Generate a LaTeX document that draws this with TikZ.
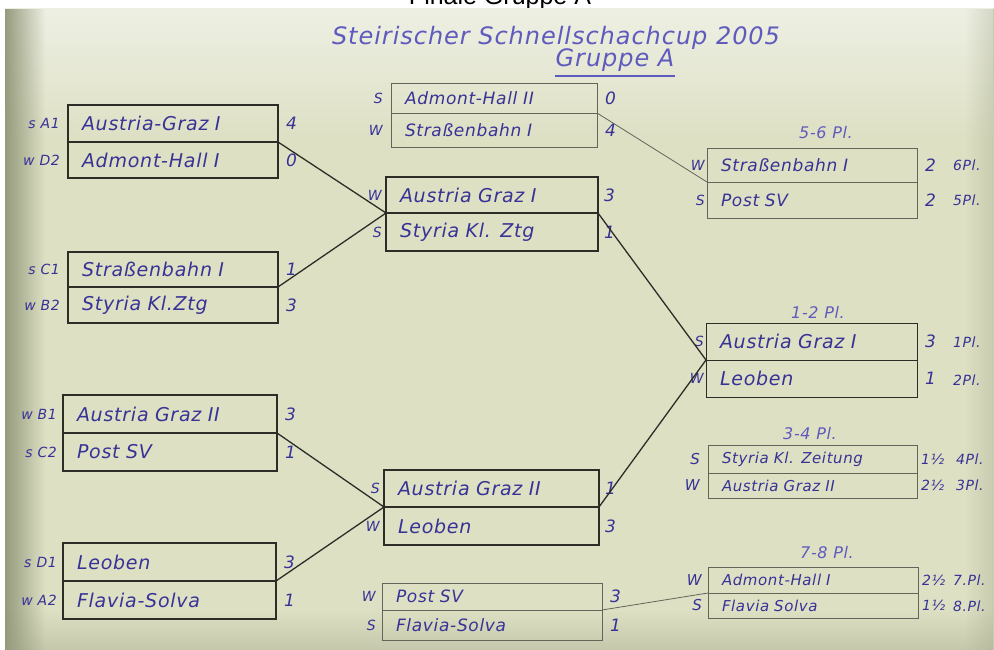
\documentclass[tikz,border=0pt]{standalone}
\usepackage{fontspec}
\setmainfont{Liberation Sans}
\newfontfamily\hand{DejaVu Sans}[LetterSpace=4]
\usetikzlibrary{fadings}
\definecolor{paper}{RGB}{222,224,196}
\definecolor{paperlight}{RGB}{238,240,228}
\definecolor{paperdark}{RGB}{150,155,125}
\definecolor{pencil}{RGB}{45,45,40}
\definecolor{pencillight}{RGB}{100,100,90}
\definecolor{ink}{RGB}{55,50,150}
\definecolor{inklight}{RGB}{95,90,190}
\tikzset{
 cellbox/.style={draw=pencil, line width=1.2pt, rectangle, anchor=north west, outer sep=0pt,
   inner xsep=14pt, inner ysep=0pt, align=left, text=ink,
   font=\hand\itshape\fontsize{19}{22}\selectfont},
 lightcell/.style={cellbox, draw=pencillight, line width=0.9pt},
 smallcell/.style={lightcell, font=\hand\itshape\fontsize{15}{17}\selectfont},
 scoretext/.style={text=ink, font=\hand\itshape\fontsize{17}{20}\selectfont, inner sep=0pt, anchor=west},
 smallscore/.style={scoretext, font=\hand\itshape\fontsize{14}{16}\selectfont},
 sidelabel/.style={text=ink, font=\hand\itshape\fontsize{14}{16}\selectfont, inner sep=0pt, anchor=east},
 heading/.style={text=inklight, font=\hand\itshape\fontsize{16}{19}\selectfont, inner sep=0pt},
 conn/.style={draw=pencil, line width=1.3pt},
 thinconn/.style={draw=pencillight, line width=0.8pt},
}
\begin{document}
\begin{tikzpicture}[x=1pt,y=-1pt]
\useasboundingbox (0,0) rectangle (994,650);
\clip (0,0) rectangle (994,650);
\fill[white] (0,0) rectangle (994,650);
% printed title
\node[font=\fontsize{25}{28}\selectfont, anchor=base, inner sep=0pt] (fin) at (500,5) {Finale Gruppe A};
% paper
\fill[paper] (5,8) rectangle (994,650);
\fill[paperlight, path fading=south] (5,8) rectangle (994,140);
\fill[paperdark, path fading=east] (5,8) rectangle (45,650);
\fill[paperdark, path fading=west, opacity=0.3] (965,8) rectangle (994,650);
\fill[paperdark, path fading=north, opacity=0.35] (5,610) rectangle (994,650);

% handwritten title
\node[text=inklight, font=\hand\itshape\fontsize{24}{28}\selectfont, inner sep=0pt] (t1) at (556,38) {Steirischer Schnellschachcup 2005};
\node[text=inklight, font=\hand\itshape\fontsize{24}{28}\selectfont, inner sep=0pt] (t2) at (615,60) {Gruppe A};
\draw[inklight, line width=2pt] ([yshift=-4pt]t2.south west) -- ([yshift=-4pt]t2.south east);

% ---------- left column ----------
\node[cellbox, text width=182pt, minimum height=37pt] (A1) at (68,105) {Austria-Graz I};
\node[cellbox, text width=182pt, minimum height=36pt] (A2) at (68,142) {Admont-Hall I};
\node[scoretext] (A1s) at ([xshift=8pt]A1.east) {4};
\node[scoretext] (A2s) at ([xshift=8pt]A2.east) {0};
\node[sidelabel] (A1l) at ([xshift=-8pt]A1.west) {s A1};
\node[sidelabel] (A2l) at ([xshift=-8pt]A2.west) {w D2};

\node[cellbox, text width=182pt, minimum height=35pt] (B1) at (68,252) {Straßenbahn I};
\node[cellbox, text width=182pt, minimum height=36pt] (B2) at (68,287) {Styria Kl.Ztg};
\node[scoretext] (B1s) at ([xshift=8pt]B1.east) {1};
\node[scoretext] (B2s) at ([xshift=8pt]B2.east) {3};
\node[sidelabel] (B1l) at ([xshift=-8pt]B1.west) {s C1};
\node[sidelabel] (B2l) at ([xshift=-8pt]B2.west) {w B2};

\node[cellbox, text width=186pt, minimum height=38pt] (C1) at (63,395) {Austria Graz II};
\node[cellbox, text width=186pt, minimum height=38pt] (C2) at (63,433) {Post SV};
\node[scoretext] (C1s) at ([xshift=8pt]C1.east) {3};
\node[scoretext] (C2s) at ([xshift=8pt]C2.east) {1};
\node[sidelabel] (C1l) at ([xshift=-6pt]C1.west) {w B1};
\node[sidelabel] (C2l) at ([xshift=-6pt]C2.west) {s C2};

\node[cellbox, text width=185pt, minimum height=38pt] (D1) at (63,543) {Leoben};
\node[cellbox, text width=185pt, minimum height=38pt] (D2) at (63,581) {Flavia-Solva};
\node[scoretext] (D1s) at ([xshift=8pt]D1.east) {3};
\node[scoretext] (D2s) at ([xshift=8pt]D2.east) {1};
\node[sidelabel] (D1l) at ([xshift=-6pt]D1.west) {s D1};
\node[sidelabel] (D2l) at ([xshift=-6pt]D2.west) {w A2};

% ---------- middle column ----------
\node[lightcell, text width=178pt, minimum height=30pt, font=\hand\itshape\fontsize{17}{20}\selectfont] (M0a) at (391,83) {Admont-Hall II};
\node[lightcell, text width=178pt, minimum height=34pt, font=\hand\itshape\fontsize{17}{20}\selectfont] (M0b) at (391,113) {Straßenbahn I};
\node[scoretext] (M0as) at ([xshift=8pt]M0a.east) {0};
\node[scoretext] (M0bs) at ([xshift=8pt]M0b.east) {4};
\node[sidelabel] (M0al) at ([xshift=-8pt]M0a.west) {S};
\node[sidelabel] (M0bl) at ([xshift=-8pt]M0b.west) {W};

\node[cellbox, text width=184pt, minimum height=36pt] (M1a) at (386,177) {Austria Graz I};
\node[cellbox, text width=184pt, minimum height=38pt] (M1b) at (386,213) {Styria Kl. Ztg};
\node[scoretext] (M1as) at ([xshift=6pt]M1a.east) {3};
\node[scoretext] (M1bs) at ([xshift=6pt]M1b.east) {1};
\node[sidelabel] (M1al) at ([xshift=-4pt]M1a.west) {W};
\node[sidelabel] (M1bl) at ([xshift=-4pt]M1b.west) {S};

\node[cellbox, text width=187pt, minimum height=37pt] (M2a) at (384,470) {Austria Graz II};
\node[cellbox, text width=187pt, minimum height=38pt] (M2b) at (384,507) {Leoben};
\node[scoretext] (M2as) at ([xshift=6pt]M2a.east) {1};
\node[scoretext] (M2bs) at ([xshift=6pt]M2b.east) {3};
\node[sidelabel] (M2al) at ([xshift=-4pt]M2a.west) {S};
\node[sidelabel] (M2bl) at ([xshift=-4pt]M2b.west) {W};

\node[lightcell, text width=192pt, minimum height=27pt, font=\hand\itshape\fontsize{17}{20}\selectfont] (M3a) at (382,583) {Post SV};
\node[lightcell, text width=192pt, minimum height=30pt, font=\hand\itshape\fontsize{17}{20}\selectfont] (M3b) at (382,610) {Flavia-Solva};
\node[scoretext] (M3as) at ([xshift=8pt]M3a.east) {3};
\node[scoretext] (M3bs) at ([xshift=8pt]M3b.east) {1};
\node[sidelabel] (M3al) at ([xshift=-6pt]M3a.west) {W};
\node[sidelabel] (M3bl) at ([xshift=-6pt]M3b.west) {S};

% ---------- right column ----------
\node[heading] (H1) at (826,133) {5-6 Pl.};
\node[lightcell, text width=182pt, minimum height=34pt, font=\hand\itshape\fontsize{17}{20}\selectfont] (R1a) at (707,148) {Straßenbahn I};
\node[lightcell, text width=182pt, minimum height=36pt, font=\hand\itshape\fontsize{17}{20}\selectfont] (R1b) at (707,182) {Post SV};
\node[scoretext] (R1as) at ([xshift=8pt]R1a.east) {2};
\node[scoretext] (R1bs) at ([xshift=8pt]R1b.east) {2};
\node[smallscore] (R1ap) at (953,165) {6Pl.};
\node[smallscore] (R1bp) at (953,200) {5Pl.};
\node[sidelabel] (R1al) at ([xshift=-2pt]R1a.west) {W};
\node[sidelabel] (R1bl) at ([xshift=-2pt]R1b.west) {S};

\node[heading] (H2) at (818,312) {1-2 Pl.};
\node[lightcell, draw=pencil, text width=183pt, minimum height=37pt] (R2a) at (706,323) {Austria Graz I};
\node[lightcell, draw=pencil, text width=183pt, minimum height=37pt] (R2b) at (706,360) {Leoben};
\node[scoretext] (R2as) at ([xshift=8pt]R2a.east) {3};
\node[scoretext] (R2bs) at ([xshift=8pt]R2b.east) {1};
\node[smallscore] (R2ap) at (953,342) {1Pl.};
\node[smallscore] (R2bp) at (953,380) {2Pl.};
\node[sidelabel] (R2al) at ([xshift=-2pt]R2a.west) {S};
\node[sidelabel] (R2bl) at ([xshift=-2pt]R2b.west) {W};

\node[heading] (H3) at (810,434) {3-4 Pl.};
\node[smallcell, text width=181pt, minimum height=28pt] (R3a) at (708,445) {Styria Kl. Zeitung};
\node[smallcell, text width=181pt, minimum height=25pt] (R3b) at (708,473) {Austria Graz II};
\node[smallscore] (R3as) at ([xshift=4pt]R3a.east) {1½};
\node[smallscore] (R3bs) at ([xshift=4pt]R3b.east) {2½};
\node[smallscore] (R3ap) at (956,459) {4Pl.};
\node[smallscore] (R3bp) at (956,485) {3Pl.};
\node[sidelabel, font=\hand\itshape\fontsize{15}{17}\selectfont] (R3al) at ([xshift=-8pt]R3a.west) {S};
\node[sidelabel, font=\hand\itshape\fontsize{15}{17}\selectfont] (R3bl) at ([xshift=-8pt]R3b.west) {W};

\node[heading] (H4) at (827,553) {7-8 Pl.};
\node[smallcell, text width=182pt, minimum height=26pt] (R4a) at (708,567) {Admont-Hall I};
\node[smallcell, text width=182pt, minimum height=25pt] (R4b) at (708,593) {Flavia Solva};
\node[smallscore] (R4as) at ([xshift=4pt]R4a.east) {2½};
\node[smallscore] (R4bs) at ([xshift=4pt]R4b.east) {1½};
\node[smallscore] (R4ap) at (953,580) {7.Pl.};
\node[smallscore] (R4bp) at (953,606) {8.Pl.};
\node[sidelabel, font=\hand\itshape\fontsize{15}{17}\selectfont] (R4al) at ([xshift=-6pt]R4a.west) {W};
\node[sidelabel, font=\hand\itshape\fontsize{15}{17}\selectfont] (R4bl) at ([xshift=-6pt]R4b.west) {S};

% ---------- connectors ----------
\draw[conn] (A1.south east) -- (M1a.south west);
\draw[conn] (B1.south east) -- (M1a.south west);
\draw[conn] (M1a.south east) -- (R2a.south west);
\draw[conn] (C1.south east) -- (M2a.south west);
\draw[conn] (D1.south east) -- (M2a.south west);
\draw[conn] (M2a.south east) -- (R2a.south west);
\draw[thinconn] (M0a.south east) -- (R1a.south west);
\draw[thinconn] (M3a.south east) -- (R4a.south west);
\end{tikzpicture}
\end{document}
